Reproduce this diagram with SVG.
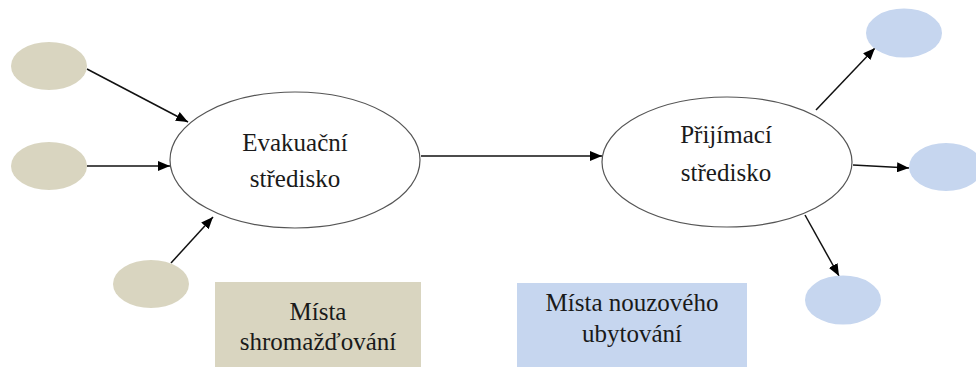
<svg xmlns="http://www.w3.org/2000/svg" width="976" height="367" viewBox="0 0 976 367">
<defs>
<marker id="ah" viewBox="0 0 12 10" refX="12" refY="5" markerWidth="12" markerHeight="10" markerUnits="userSpaceOnUse" orient="auto">
<path d="M0,0 L12,5 L0,10 z" fill="#000"/>
</marker>
<style>
text{font-family:"Liberation Serif",serif;font-size:25px;fill:#1a1a1a;text-anchor:middle}
.tan{fill:#d9d5c0}
.blue{fill:#c6d6ef}
.big{fill:#fff;stroke:#555;stroke-width:1.2}
.c{stroke:#111;stroke-width:1.5;fill:none;marker-end:url(#ah)}
</style>
</defs>
<rect width="976" height="367" fill="#fff"/>
<g id="connectors">
<line class="c" x1="87" y1="69" x2="188" y2="122"/>
<line class="c" x1="87" y1="166" x2="170" y2="166"/>
<line class="c" x1="171" y1="263" x2="213" y2="217"/>
<line class="c" x1="421" y1="156" x2="602" y2="156"/>
<line class="c" x1="816" y1="110" x2="875" y2="48"/>
<line class="c" x1="853" y1="165" x2="909" y2="168"/>
<line class="c" x1="805" y1="215" x2="839" y2="276"/>
</g>
<g id="src1"><ellipse class="tan" cx="49" cy="66" rx="38" ry="24"/></g>
<g id="src2"><ellipse class="tan" cx="49" cy="166" rx="38" ry="24"/></g>
<g id="src3"><ellipse class="tan" cx="151" cy="284" rx="38" ry="24"/></g>
<g id="evak">
<ellipse class="big" cx="295" cy="160" rx="125" ry="68"/>
<text x="295" y="151" style="font-family:'Liberation Serif',serif">Evakuační</text>
<text x="295" y="187" style="font-family:'Liberation Serif',serif">středisko</text>
</g>
<g id="prij">
<ellipse class="big" cx="727" cy="162" rx="125" ry="65"/>
<text x="726" y="143" style="font-family:'Liberation Serif',serif">Přijímací</text>
<text x="726" y="181" style="font-family:'Liberation Serif',serif">středisko</text>
</g>
<g id="legend-tan">
<rect class="tan" x="215" y="282" width="206" height="85"/>
<text x="318" y="320" style="font-family:'Liberation Serif',serif">Místa</text>
<text x="318" y="350" style="font-family:'Liberation Serif',serif">shromažďování</text>
</g>
<g id="legend-blue">
<rect class="blue" x="517" y="283" width="230" height="84"/>
<text x="632" y="311" style="font-family:'Liberation Serif',serif">Místa nouzového</text>
<text x="632" y="342" style="font-family:'Liberation Serif',serif">ubytování</text>
</g>
<g id="dst1"><ellipse class="blue" cx="904" cy="33" rx="38" ry="24.5"/></g>
<g id="dst2"><ellipse class="blue" cx="946" cy="167" rx="37" ry="24"/></g>
<g id="dst3"><ellipse class="blue" cx="843" cy="300" rx="38" ry="24.5"/></g>
</svg>
